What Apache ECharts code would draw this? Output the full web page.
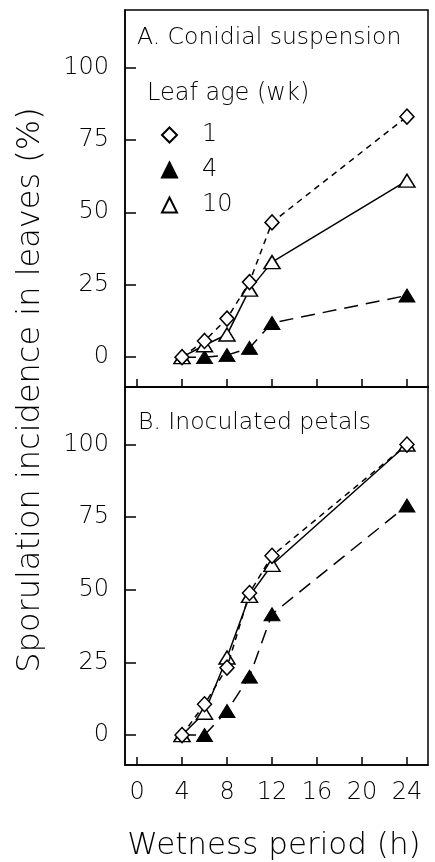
<!DOCTYPE html>
<html>
<head>
<meta charset="utf-8">
<script src="https://cdn.jsdelivr.net/npm/echarts@6/dist/echarts.min.js"></script>
<style>
  html, body { margin: 0; padding: 0; background: #fff; }
  #chart { width: 435px; height: 862px; }
</style>
</head>
<body>
<div id="chart"></div>
<script>
// wetness period (h)
const hours = [4, 6, 8, 10, 12, 24]
// A. conidial suspension, sporulation incidence (%)
const condA1 = [0, 5.6, 13.3, 25.9, 46.5, 83]
const condA4 = [0, 0, 0.7, 3.2, 11.8, 21.3]
const condA10 = [0, 4.1, 7.8, 23.3, 32.8, 60.9]
// B. inoculated petals
const petB1 = [0, 10.6, 23.2, 48.9, 61.7, 100]
const petB4 = [0, 0, 8.3, 20.1, 41.6, 79]
const petB10 = [0, 7.7, 26.7, 47.9, 58.6, 100]
// tick labels
const xTicks = [0, 4, 8, 12, 16, 20, 24]
const yTicks = [0, 25, 50, 75, 100]

const FONT = 'DejaVu Sans'
const chart = echarts.init(document.getElementById('chart'))

const pairs = arr => hours.map((h, i) => [h, arr[i]])

// open / filled marker styles
const openStyle = { color: '#fff', borderColor: '#000', borderWidth: 1.5 }
const filledStyle = { color: '#000', borderColor: '#000', borderWidth: 1 }

function mkSeries(name, data, idx, kind) {
  const s = {
    name: name,
    type: 'line',
    xAxisIndex: idx,
    yAxisIndex: idx,
    data: pairs(data),
    symbolSize: 14,
    showSymbol: true,
    animation: false,
    lineStyle: { color: '#000', width: 1.5 },
    emphasis: { disabled: true }
  }
  if (kind === 1) {
    s.symbol = 'diamond'
    s.symbolSize = [14, 15]
    s.itemStyle = openStyle
    s.lineStyle.type = [6, 5]
    s.z = 4
  } else if (kind === 4) {
    s.symbol = 'triangle'
    s.symbolSize = [16, 13]
    s.itemStyle = filledStyle
    s.lineStyle.type = [14, 8]
    s.z = 2
  } else {
    s.symbol = 'triangle'
    s.symbolSize = [16, 13]
    s.itemStyle = openStyle
    s.z = 3
  }
  return s
}

function xAx(idx, labels) {
  return {
    type: 'value',
    gridIndex: idx,
    min: -1.07,
    max: 25.87,
    splitLine: { show: false },
    axisLine: { show: true, onZero: false, lineStyle: { color: '#000', width: 1.5 } },
    axisTick: { show: true, inside: true, length: 8, customValues: xTicks, lineStyle: { color: '#000', width: 1.5 } },
    axisLabel: { show: labels, customValues: xTicks, margin: 16, color: '#000', fontFamily: FONT, fontSize: 24, fontWeight: 200 }
  }
}

function yAx(idx) {
  return {
    type: 'value',
    gridIndex: idx,
    min: -10.3,
    max: 119.8,
    splitLine: { show: false },
    axisLine: { show: true, onZero: false, lineStyle: { color: '#000', width: 1.5 } },
    axisTick: { show: true, inside: true, length: 11, customValues: yTicks, lineStyle: { color: '#000', width: 1.5 } },
    axisLabel: { customValues: yTicks, margin: 16, color: '#000', fontFamily: FONT, fontSize: 24, fontWeight: 200 }
  }
}

const txt = (text, x, y, size, extra) => ({
  type: 'text',
  x: x,
  y: y,
  style: Object.assign({
    text: text,
    fill: '#000',
    font: '200 ' + size + 'px "' + FONT + '"',
    textVerticalAlign: 'middle'
  }, extra || {})
})

const option = {
  backgroundColor: '#fff',
  animation: false,
  grid: [
    { left: 125, top: 10, width: 303, height: 377, show: true, borderColor: '#000', borderWidth: 1.5 },
    { left: 125, top: 387, width: 303, height: 378, show: true, borderColor: '#000', borderWidth: 1.5 }
  ],
  xAxis: [xAx(0, false), xAx(1, true)],
  yAxis: [yAx(0), yAx(1)],
  legend: {
    orient: 'vertical',
    left: 161,
    top: 122,
    itemWidth: 15,
    itemHeight: 15,
    itemGap: 9,
    selectedMode: false,
    padding: 0,
    textStyle: { fontFamily: FONT, fontSize: 24, fontWeight: 200, color: '#000', padding: [0, 0, 0, 20], lineHeight: 26 },
    data: [
      { name: '1', icon: 'diamond' },
      { name: '4', icon: 'triangle' },
      { name: '10', icon: 'triangle' }
    ]
  },
  graphic: [
    txt('A. Conidial suspension', 137, 38, 23.5),
    txt('Leaf age (wk)', 147, 94, 24),
    txt('B. Inoculated petals', 138, 423, 23.5),
    txt('Wetness period (h)', 274, 846, 31, { textAlign: 'center' }),
    Object.assign(txt('Sporulation incidence in leaves (%)', 0, 0, 32, { textAlign: 'center' }), {
      x: 31, y: 390, rotation: Math.PI / 2
    })
  ],
  series: [
    mkSeries('4', condA4, 0, 4),
    mkSeries('10', condA10, 0, 10),
    mkSeries('1', condA1, 0, 1),
    mkSeries('4', petB4, 1, 4),
    mkSeries('10', petB10, 1, 10),
    mkSeries('1', petB1, 1, 1)
  ]
}

chart.setOption(option)
</script>
</body>
</html>
